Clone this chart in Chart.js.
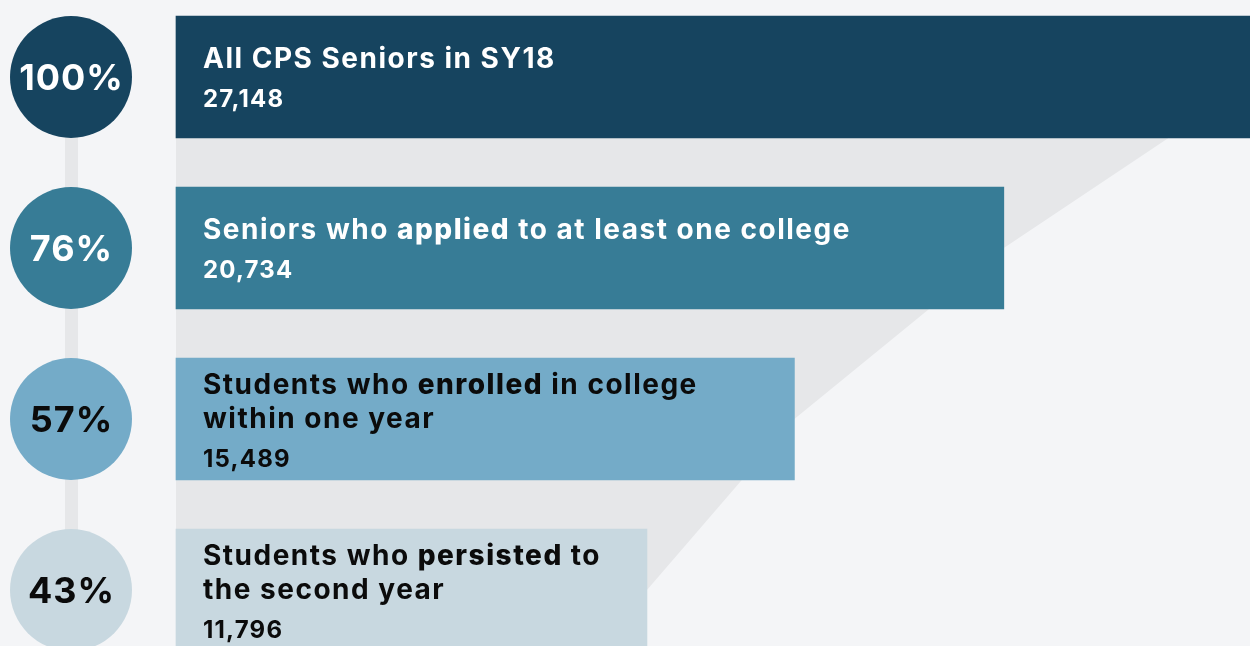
<!DOCTYPE html>
<html>
<head>
<meta charset="utf-8">
<script src="https://cdn.jsdelivr.net/npm/chart.js@4.4.1/dist/chart.umd.min.js"></script>
<style>
  html, body { margin: 0; padding: 0; background: #f4f5f7; overflow: hidden; }
  #funnel { display: block; }
</style>
</head>
<body>
<canvas id="funnel" width="1250" height="646"></canvas>
<script>
// Stage names: *word* is set in the heavier weight, \n breaks the line
const stages = [
    'All CPS Seniors in SY18',
    'Seniors who *applied* to at least one college',
    'Students who *enrolled* in college\nwithin one year',
    'Students who *persisted* to\nthe second year'
];
const studentCounts = [27148, 20734, 15489, 11796];
const stageColors = ['#16445f', '#377c96', '#74abc8', '#c8d8e0'];
const inkColors = ['#ffffff', '#ffffff', '#0b0b0b', '#0b0b0b'];

const FONT = 'Inter, "Noto Sans", sans-serif';
const SHADOW = '#e6e7e9';

// draws the text of one line, switching weight on *keywords*
function drawRichLine(ctx, text, x, y, size) {
    const parts = text.split('*');
    parts.forEach((part, k) => {
        ctx.font = (k % 2 ? '800 ' : '700 ') + size + 'px ' + FONT;
        ctx.fillText(part, x, y);
        x += ctx.measureText(part).width;
    });
}

const funnelDecor = {
    id: 'funnelDecor',
    beforeDatasetsDraw(chart) {
        const ctx = chart.ctx;
        const yScale = chart.scales.y;
        const cx = 71, r = 61;
        const first = yScale.getPixelForValue(0);
        const last = yScale.getPixelForValue(studentCounts.length - 1);

        ctx.save();
        // the stem joining the circles
        ctx.fillStyle = SHADOW;
        ctx.fillRect(cx - 6, first, 13, last - first);

        studentCounts.forEach((v, i) => {
            const cy = yScale.getPixelForValue(i);
            ctx.beginPath();
            ctx.arc(cx, cy, r, 0, Math.PI * 2);
            ctx.fillStyle = stageColors[i];
            ctx.fill();

            const pct = Math.round(v / studentCounts[0] * 100) + '%';
            ctx.font = '700 36px ' + FONT;
            ctx.letterSpacing = '1px';
            ctx.fillStyle = inkColors[i];
            ctx.textAlign = 'center';
            ctx.textBaseline = 'alphabetic';
            ctx.fillText(pct, cx + 0.5, cy + 13);
        });
        ctx.restore();
    },
    afterDatasetsDraw(chart) {
        const ctx = chart.ctx;
        const bars = chart.getDatasetMeta(0).data;
        ctx.save();
        ctx.textAlign = 'left';
        ctx.textBaseline = 'alphabetic';
        bars.forEach((bar, i) => {
            const lines = stages[i].split('\n');
            const x = bar.base + 27;
            let y = bar.y - 9 - (lines.length - 1) * 16;
            ctx.fillStyle = inkColors[i];
            ctx.letterSpacing = '1.5px';
            lines.forEach((line, j) => {
                if (j > 0) y += 34;
                drawRichLine(ctx, line, x, y, 28);
            });
            ctx.font = '700 24px ' + FONT;
            ctx.letterSpacing = '1.2px';
            ctx.fillText(studentCounts[i].toLocaleString('en-US'), x, y + 38.5);
        });
        ctx.restore();
    }
};

const ctx = document.getElementById('funnel').getContext('2d');
const chart = new Chart(ctx, {
    type: 'bar',
    data: {
        labels: stages,
        datasets: [{
            type: 'bar',
            data: studentCounts,
            backgroundColor: stageColors,
            barThickness: 122,
            clip: false,
            order: 0
        }, {
            // grey funnel running behind the bar ends
            type: 'line',
            data: studentCounts,
            fill: 'origin',
            backgroundColor: SHADOW,
            borderWidth: 0,
            pointRadius: 0,
            tension: 0,
            order: 1
        }]
    },
    options: {
        indexAxis: 'y',
        responsive: false,
        animation: false,
        layout: { padding: { left: 176, top: 77, bottom: 56, right: 0 } },
        scales: {
            x: { display: false, min: 0, max: 26900 },
            y: { display: false, offset: false }
        },
        plugins: {
            legend: { display: false },
            tooltip: { enabled: false }
        }
    },
    plugins: [funnelDecor]
});
</script>
</body>
</html>
